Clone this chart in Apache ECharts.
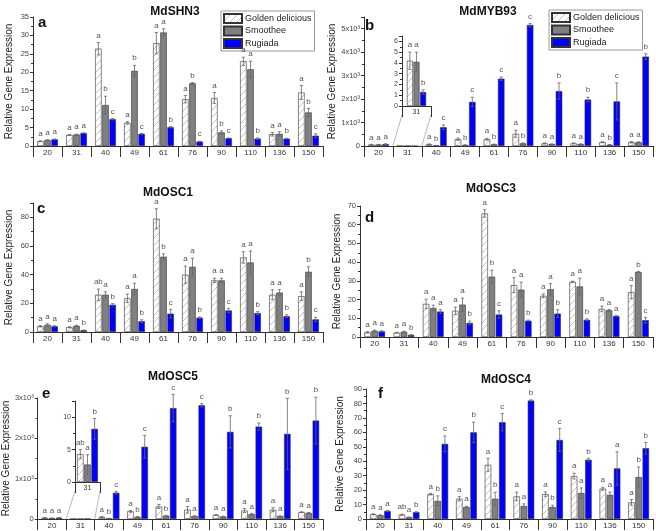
<!DOCTYPE html>
<html><head><meta charset="utf-8">
<script src="https://cdn.jsdelivr.net/npm/echarts@6/dist/echarts.min.js"></script>
<style>html,body{margin:0;padding:0;background:#fff}#c{width:656px;height:531px}</style>
</head><body><div id="c"></div>
<script>
const categories = ['20','31','40','49','61','76','90','110','136','150'];
const seriesNames = ['Golden delicious','Smoothee','Rugiada'];
const insetCategory = ['31'];

// a MdSHN3
const shn3_gd = [1.3,3.0,26.4,6.3,27.9,12.7,13.0,23.0,3.2,14.5];
const shn3_sm = [1.6,3.1,11.1,20.4,30.8,17.0,3.7,20.8,3.3,9.1];
const shn3_ru = [1.8,3.5,7.3,3.3,5.1,1.2,2.1,2.0,2.0,2.8];
const shn3_gdErr = [0.1,0.1,1.7,0.3,2.9,1.0,1.5,1.1,0.5,1.9];
const shn3_smErr = [0.1,0.1,2.4,1.5,1.0,0.2,0.4,2.2,0.6,1.1];
const shn3_ruErr = [0.1,0.1,0.2,0.1,0.2,0.1,0.1,0.2,0.1,0.5];
const shn3_gdLet = ['a','a','a','a','a','a','a','a','a','a'];
const shn3_smLet = ['a','a','b','b','a','b','b','a','a','b'];
const shn3_ruLet = ['a','a','c','c','b','c','c','b','b','c'];

// b MdMYB93
const myb93_gd = [60,4.2,70,290,290,520,110,110,160,160];
const myb93_sm = [60,4.1,20,40,70,110,80,80,50,160];
const myb93_ru = [80,1.3,800,1880,2870,5160,2340,1980,1900,3810];
const myb93_gdErr = [10,0.8,20,50,40,150,20,20,20,30];
const myb93_smErr = [10,0.9,5,10,10,20,10,10,10,20];
const myb93_ruErr = [10,0.2,100,200,70,70,350,100,790,120];
const myb93_gdLet = ['a','a','a','a','a','a','a','a','a','a'];
const myb93_smLet = ['a','a','b','b','b','b','a','a','b','a'];
const myb93_ruLet = ['a','b','c','c','c','c','b','b','c','b'];

// c MdOSC1
const osc1_gd = [4,3.3,26,23.5,79,40,36,52,26,25];
const osc1_sm = [5,4.3,26,30,52.5,45.5,36,48.5,27.5,42];
const osc1_ru = [4,1.2,19,7.5,12.8,10,15,13.2,11,8.8];
const osc1_gdErr = [0.5,0.3,4,3,7,6,1.5,4,3.5,3];
const osc1_smErr = [0.8,0.4,2,4,2,6,1.5,8,2,3.5];
const osc1_ruErr = [0.4,0.2,0.8,1,3,0.5,1.5,1,1,1.5];
const osc1_gdLet = ['a','a','ab','a','a','a','a','a','a','a'];
const osc1_smLet = ['a','a','a','a','b','a','a','a','a','b'];
const osc1_ruLet = ['a','b','b','b','c','b','c','b','b','c'];

// d MdOSC3
const osc3_gd = [2.5,2.3,17.7,14,66,27.7,22,29.5,15,24];
const osc3_sm = [3.3,2.8,15.5,17.3,32.2,25.3,25.5,27,14.3,34.8];
const osc3_ru = [3.0,1.1,13.6,7.5,12,8.7,12.5,9.2,11.2,9];
const osc3_gdErr = [0.3,0.2,2.5,2,2,4,1,0.3,1.5,3.5];
const osc3_smErr = [0.4,0.3,1.5,3.5,3.5,4,3,4.5,0.5,0.3];
const osc3_ruErr = [0.3,0.2,1,1,2,0.3,2,0.5,0.3,1.5];
const osc3_gdLet = ['a','a','a','a','a','a','a','a','a','a'];
const osc3_smLet = ['a','a','a','a','b','a','a','a','a','b'];
const osc3_ruLet = ['a','b','a','b','c','b','b','b','a','c'];

// e MdOSC5
const osc5_gd = [30,4.3,50,190,310,230,100,210,230,170];
const osc5_sm = [20,2.7,10,50,80,70,60,120,70,150];
const osc5_ru = [30,8.2,650,1790,2750,2820,2160,2290,2110,2440];
const osc5_gdErr = [5,0.7,10,20,50,80,10,50,50,10];
const osc5_smErr = [5,1.5,5,10,10,10,10,20,10,10];
const osc5_ruErr = [5,1.6,30,280,340,40,400,90,880,580];
const osc5_gdLet = ['a','ab','a','a','a','a','a','a','a','a'];
const osc5_smLet = ['a','a','b','b','b','a','a','a','a','a'];
const osc5_ruLet = ['a','b','c','c','c','c','b','b','b','b'];

// f MdOSC4
const osc4_gd = [3.3,3,17.2,14,37.5,15.6,17.2,29.7,21,11.5];
const osc4_sm = [2.6,1.2,12.5,8.3,14,9,8.3,18,16.7,29];
const osc4_ru = [5.5,4.7,52,60,67,82,54.7,41,35,49];
const osc4_gdErr = [0.3,0.3,0.5,1.5,4.5,3,1.5,2,1,2];
const osc4_smErr = [0.3,0.2,3.5,0.5,4.5,1.5,1.2,3.5,2,7];
const osc4_ruErr = [0.4,0.3,5.5,7,6,0.5,8,1,11.5,4];
const osc4_gdLet = ['a','ab','a','a','a','a','a','a','a','a'];
const osc4_smLet = ['a','a','b','a','b','a','b','a','a','b'];
const osc4_ruLet = ['a','b','c','b','c','b','c','b','a','b'];

const FONT = 'Liberation Sans, Arial, sans-serif';

function hatch(){
  const s = 7;
  const c = document.createElement('canvas'); c.width = s; c.height = s;
  const g = c.getContext('2d');
  g.fillStyle = '#fff'; g.fillRect(0,0,s,s);
  g.strokeStyle = '#a8a8a8'; g.lineWidth = 0.7;
  g.beginPath();
  g.moveTo(0,s); g.lineTo(s,0);
  g.moveTo(-1,1); g.lineTo(1,-1);
  g.moveTo(s-1,s+1); g.lineTo(s+1,s-1);
  g.stroke();
  return c;
}
const HATCH = hatch();
const fills = [{image: HATCH, repeat: 'repeat'}, '#808080', '#0000ff'];

const panels = [
  {title:'MdSHN3', letter:'a', vals:[shn3_gd,shn3_sm,shn3_ru], errs:[shn3_gdErr,shn3_smErr,shn3_ruErr], lets:[shn3_gdLet,shn3_smLet,shn3_ruLet],
   grid:{left:33,top:17,width:290,height:129}, max:35, interval:5, sci:false, nameGap:19,
   titlePos:[170,1], letterPos:[43,15], skip:-1},
  {title:'MdMYB93', letter:'b', vals:[myb93_gd,myb93_sm,myb93_ru], errs:[myb93_gdErr,myb93_smErr,myb93_ruErr], lets:[myb93_gdLet,myb93_smLet,myb93_ruLet],
   grid:{left:364,top:17,width:289,height:129}, max:5500, interval:1000, sci:true, nameGap:27,
   titlePos:[483,1], letterPos:[370,18], skip:1},
  {title:'MdOSC1', letter:'c', vals:[osc1_gd,osc1_sm,osc1_ru], errs:[osc1_gdErr,osc1_smErr,osc1_ruErr], lets:[osc1_gdLet,osc1_smLet,osc1_ruLet],
   grid:{left:33,top:203,width:290,height:129}, max:90, interval:20, sci:false, nameGap:19,
   titlePos:[163,182], letterPos:[42,201], skip:-1},
  {title:'MdOSC3', letter:'d', vals:[osc3_gd,osc3_sm,osc3_ru], errs:[osc3_gdErr,osc3_smErr,osc3_ruErr], lets:[osc3_gdLet,osc3_smLet,osc3_ruLet],
   grid:{left:360,top:206,width:293,height:131}, max:70, interval:10, sci:false, nameGap:18,
   titlePos:[486,178], letterPos:[370,210], skip:-1},
  {title:'MdOSC5', letter:'e', vals:[osc5_gd,osc5_sm,osc5_ru], errs:[osc5_gdErr,osc5_smErr,osc5_ruErr], lets:[osc5_gdLet,osc5_smLet,osc5_ruLet],
   grid:{left:32,top:398,width:291,height:121}, max:3000, interval:1000, sci:true, nameGap:22,
   titlePos:[168,366], letterPos:[47,386], skip:1},
  {title:'MdOSC4', letter:'f', vals:[osc4_gd,osc4_sm,osc4_ru], errs:[osc4_gdErr,osc4_smErr,osc4_ruErr], lets:[osc4_gdLet,osc4_smLet,osc4_ruLet],
   grid:{left:366,top:389,width:287,height:130}, max:90, interval:10, sci:false, nameGap:21,
   titlePos:[501,369], letterPos:[383,386], skip:-1}
];
const insets = [
  {parent:1, grid:{left:402,top:36,width:29,height:70}, max:6.5, interval:1, bw:6},
  {parent:4, grid:{left:75,top:401,width:25,height:81}, max:12.5, interval:5, bw:6.5}
];

const grids = [], xAxes = [], yAxes = [], series = [], titles = [], graphics = [];
const axisColor = '#333';

function yAxisCfg(gi, max, interval, sci, nameGap, showName, fs){
  return {
    type:'value', gridIndex:gi, min:0, max:max, interval:interval,
    name: showName ? 'Relative Gene Expression' : '', nameLocation:'middle', nameGap:nameGap,
    nameTextStyle:{fontFamily:FONT, fontSize:10, color:'#222'},
    axisLine:{show:true, lineStyle:{color:axisColor, width:1}},
    axisTick:{show:true, length:3, lineStyle:{color:axisColor}},
    minorTick:{show:true, splitNumber:2, length:2, lineStyle:{color:axisColor}},
    splitLine:{show:false},
    axisLabel:{fontFamily:FONT, fontSize:fs, color:'#444', margin:4,
      formatter: v => {
        if (Math.abs(v/interval - Math.round(v/interval)) > 1e-6) return '';
        if (sci) return v === 0 ? '0' : (v/1000) + 'x10\u00B3';
        return String(v);
      }}
  };
}
function xAxisCfg(gi, data, fs){
  return {
    type:'category', gridIndex:gi, data:data,
    axisLine:{show:true, lineStyle:{color:axisColor, width:1}},
    axisTick:{show:true, alignWithLabel:false, length:11, lineStyle:{color:axisColor}},
    axisLabel:{fontFamily:FONT, fontSize:fs, color:'#333', margin:3, interval:0},
    splitLine:{show:false}
  };
}
function errSeries(gi, sIdx, vals, errs, lets, bw, skip){
  const gap = bw*0.1;
  return {
    type:'custom', xAxisIndex:gi, yAxisIndex:gi, z:5, silent:true,
    data: vals.map((v,i)=>[i, v, errs[i]]),
    renderItem(params, api){
      const di = params.dataIndex;
      if (di === skip) return null;
      const i = api.value(0), v = api.value(1), e = api.value(2);
      const base = api.coord([i, v]);
      const x = base[0] + (sIdx-1)*(bw+gap);
      const yT = api.coord([i, v+e])[1];
      const yB = api.coord([i, Math.max(0, v-e)])[1];
      const st = {stroke:'#666', lineWidth:0.8};
      const ch = [];
      if (e > 0) {
        ch.push({type:'line', shape:{x1:x,y1:yT,x2:x,y2:yB}, style:st});
        ch.push({type:'line', shape:{x1:x-1.6,y1:yT,x2:x+1.6,y2:yT}, style:st});
        ch.push({type:'line', shape:{x1:x-1.6,y1:yB,x2:x+1.6,y2:yB}, style:st});
      }
      const L = lets[di];
      if (L) ch.push({type:'text', style:{text:L, x:x, y:Math.min(yT, base[1])-3, textAlign:'center', textVerticalAlign:'bottom', fontSize:8, fontFamily:FONT, fill:'#555'}});
      return {type:'group', children:ch};
    }
  };
}

panels.forEach((p, gi) => {
  grids.push(Object.assign({containLabel:false}, p.grid));
  xAxes.push(xAxisCfg(gi, categories, 8));
  yAxes.push(yAxisCfg(gi, p.max, p.interval, p.sci, p.nameGap, true, 7.5));
  for (let s=0; s<3; s++){
    series.push({type:'bar', name:seriesNames[s], xAxisIndex:gi, yAxisIndex:gi, data:p.vals[s],
      barWidth:6.5, barGap:'10%', itemStyle:{color:fills[s], borderColor:'#333', borderWidth:0.6}});
  }
  for (let s=0; s<3; s++) series.push(errSeries(gi, s, p.vals[s], p.errs[s], p.lets[s], 6.5, p.skip));
  titles.push({text:p.title, left:p.titlePos[0], top:p.titlePos[1], textAlign:'center',
    textStyle:{fontFamily:FONT, fontSize:12, fontWeight:'bold', color:'#111'}});
  graphics.push({type:'text', left:p.letterPos[0]-5, top:p.letterPos[1], style:{text:p.letter, fontFamily:FONT, fontSize:15, fontWeight:'bold', fill:'#111'}});
});

insets.forEach((ins, k) => {
  const gi = panels.length + k;
  const p = panels[ins.parent];
  const ci = categories.indexOf(insetCategory[0]);
  grids.push(Object.assign({containLabel:false}, ins.grid));
  xAxes.push(xAxisCfg(gi, insetCategory, 7));
  yAxes.push(yAxisCfg(gi, ins.max, ins.interval, false, 0, false, 7));
  for (let s=0; s<3; s++){
    series.push({type:'bar', name:seriesNames[s], xAxisIndex:gi, yAxisIndex:gi, data:[p.vals[s][ci]],
      barWidth:ins.bw, barGap:'10%', itemStyle:{color:fills[s], borderColor:'#333', borderWidth:0.6}});
  }
  for (let s=0; s<3; s++) series.push(errSeries(gi, s, [p.vals[s][ci]], [p.errs[s][ci]], [p.lets[s][ci]], ins.bw, -1));
});

const legendCfg = (left, top) => ({
  data:seriesNames, orient:'vertical', left:left, top:top, itemWidth:18, itemHeight:9, itemGap:1.5,
  padding:[2,3,2,2], borderColor:'#999', borderWidth:1, selectedMode:false,
  textStyle:{fontFamily:FONT, fontSize:9, color:'#222', padding:[0,0,0,-2]}, icon:'rect'
});

const chart = echarts.init(document.getElementById('c'), null, {renderer:'canvas'});
chart.setOption({
  animation:false, backgroundColor:'#fff',
  title:titles, grid:grids, xAxis:xAxes, yAxis:yAxes, series:series,
  legend:[legendCfg(221,11), legendCfg(549,10)],
  graphic:graphics
});

// connector lines from inset category on main axis to inset frame
const conn = [];
insets.forEach((ins, k) => {
  const pi = ins.parent;
  const ci = categories.indexOf(insetCategory[0]);
  const a = chart.convertToPixel({xAxisIndex:pi, yAxisIndex:pi}, [ci, 0]);
  const b = chart.convertToPixel({xAxisIndex:pi, yAxisIndex:pi}, [ci+1, 0]);
  const hw = (b[0]-a[0])/2;
  const yb = ins.grid.top + ins.grid.height + 9;
  const st = {stroke:'#999', lineWidth:0.7};
  conn.push({type:'line', shape:{x1:a[0]-hw, y1:a[1], x2:ins.grid.left, y2:yb}, style:st, silent:true});
  conn.push({type:'line', shape:{x1:a[0]+hw, y1:a[1], x2:ins.grid.left+ins.grid.width, y2:yb}, style:st, silent:true});
});
chart.setOption({graphic: graphics.concat(conn)});
</script></body></html>
